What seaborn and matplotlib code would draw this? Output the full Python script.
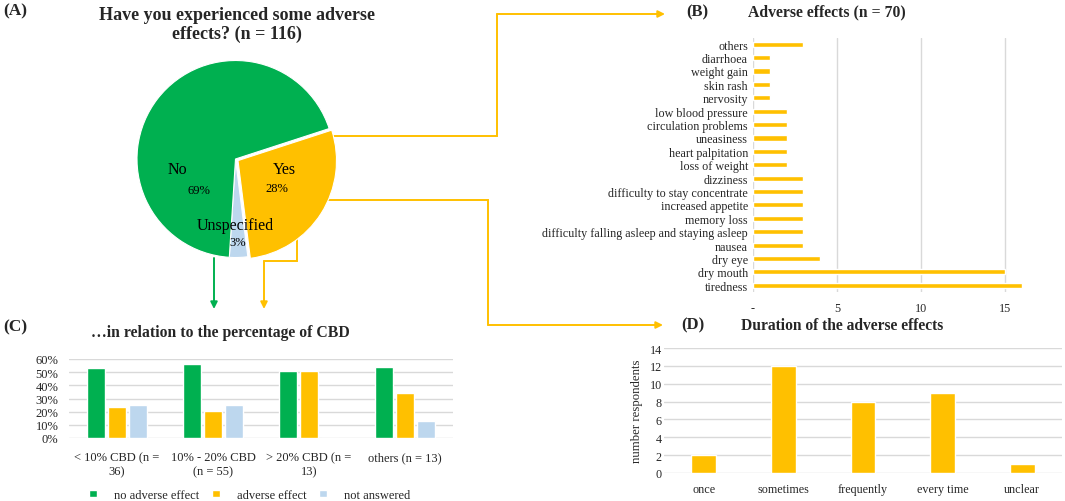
import matplotlib
matplotlib.use('Agg')
import matplotlib.pyplot as plt
import seaborn as sns
import pandas as pd

# ---- data ----
pie_labels = ['Yes', 'Unspecified', 'No']
pie_values = [28, 3, 69]

effects = ['others', 'diarrhoea', 'weight gain', 'skin rash', 'nervosity',
           'low blood pressure', 'circulation problems', 'uneasiness',
           'heart palpitation', 'loss of weight', 'dizziness',
           'difficulty to stay concentrate', 'increased appetite', 'memory loss',
           'difficulty falling asleep and staying asleep', 'nausea', 'dry eye',
           'dry mouth', 'tiredness']
effect_counts = [3, 1, 1, 1, 1, 2, 2, 2, 2, 2, 3, 3, 3, 3, 3, 3, 4, 15, 16]

cbd_groups = ['< 10% CBD (n =\n36)', '10% - 20% CBD\n(n = 55)',
              '> 20% CBD (n =\n13)', 'others (n = 13)']
cbd_series = ['no adverse effect', 'adverse effect', 'not answered']
no_adverse = [53.2, 56.2, 51.1, 54.1]
adverse = [23.3, 20.5, 50.6, 34.4]
not_answered = [25.3, 25.2, 0, 13.2]

duration_labels = ['once', 'sometimes', 'frequently', 'every time', 'unclear']
duration_counts = [2, 12, 8, 9, 1]

GREEN = '#00B050'
ORANGE = '#FFC000'
BLUE = '#BDD7EE'
GRID = '#D9D9D9'
TXT = '#262626'

sns.set_theme(style='white')
plt.rcParams['font.family'] = ['Liberation Serif', 'DejaVu Serif']

W, H = 1065, 502
fig = plt.figure(figsize=(W / 100, H / 100), dpi=100)


def px_axes(left, top, right, bottom, **kw):
    return fig.add_axes([left / W, 1 - bottom / H, (right - left) / W, (bottom - top) / H], **kw)


# overlay for connector arrows (pixel coordinates)
over = px_axes(0, 0, W, H)
over.set_xlim(0, W)
over.set_ylim(H, 0)
over.axis('off')


def connector(points, color):
    xs = [p[0] for p in points[:-1]]
    ys = [p[1] for p in points[:-1]]
    over.plot(xs, ys, color=color, lw=1.4, solid_joinstyle='miter')
    over.annotate('', xy=points[-1], xytext=points[-2],
                  arrowprops=dict(arrowstyle='-|>', color=color, lw=1.4,
                                  mutation_scale=10, shrinkA=0, shrinkB=0))


connector([(331, 137), (497, 137), (497, 15), (665, 15)], ORANGE)
connector([(327, 201), (488, 201), (488, 326), (663, 326)], ORANGE)
connector([(297, 240), (297, 262), (264, 262), (264, 310)], ORANGE)
connector([(214, 259), (214, 310)], GREEN)

# ---- (A) pie ----
r = 98.5
cx, cy = 235.5, 160
axA = px_axes(cx - 1.25 * r, cy - 1.25 * r, cx + 1.25 * r, cy + 1.25 * r)
axA.pie(pie_values, colors=[ORANGE, BLUE, GREEN], startangle=18, counterclock=False,
        explode=[0.03, 0, 0], wedgeprops=dict(edgecolor='white', linewidth=0.8))
axA.set_xlim(-1.25, 1.25)
axA.set_ylim(-1.25, 1.25)
axA.patch.set_visible(False)
label_pos = {'Yes': [(0.50, -0.10), (0.42, -0.29)],
             'Unspecified': [(0.0, -0.67), (0.02, -0.84)],
             'No': [(-0.59, -0.10), (-0.37, -0.31)]}
for lab, val in zip(pie_labels, pie_values):
    (x1, y1), (x2, y2) = label_pos[lab]
    axA.text(x1, y1, lab, ha='center', va='center', fontsize=11.5, color='black')
    axA.text(x2, y2, f'{val}%', ha='center', va='center', fontsize=9, color='black')

fig.text(3 / W, 1 - 11 / H, '(A)', fontsize=12.5, fontweight='bold', va='center')
fig.text(237 / W, 1 - 25 / H, 'Have you experienced some adverse\neffects? (n = 116)',
         fontsize=13, fontweight='bold', ha='center', va='center', linespacing=1.18)

# ---- (B) adverse effects ----
axB = px_axes(753, 38.5, 1032, 293)
dfB = pd.DataFrame({'effect': effects, 'count': effect_counts})
sns.barplot(data=dfB, y='effect', x='count', orient='h', color=ORANGE, width=0.38,
            saturation=1, ax=axB)
axB.set_xlim(0, 16.6)
axB.set_xticks([0, 5, 10, 15])
axB.set_xticklabels(['-', '5', '10', '15'])
axB.grid(axis='x', color=GRID, lw=1)
axB.set_axisbelow(True)
axB.set_xlabel('')
axB.set_ylabel('')
for s in axB.spines.values():
    s.set_visible(False)
axB.tick_params(axis='y', labelsize=8.7, pad=3.6, length=0, labelcolor=TXT)
axB.tick_params(axis='x', labelsize=8.7, pad=7, length=0, labelcolor=TXT)
fig.text(697 / W, 1 - 12 / H, '(B)', fontsize=12, fontweight='bold', ha='center', va='center')
fig.text(827 / W, 1 - 12 / H, 'Adverse effects (n = 70)', fontsize=11.3,
         fontweight='bold', ha='center', va='center')

# ---- (C) percentage of CBD ----
axC = px_axes(69, 360, 453, 439)
dfC = pd.DataFrame({
    'group': cbd_groups * 3,
    'series': [cbd_series[0]] * 4 + [cbd_series[1]] * 4 + [cbd_series[2]] * 4,
    'pct': no_adverse + adverse + not_answered,
})
sns.barplot(data=dfC, x='group', y='pct', hue='series', hue_order=cbd_series,
            palette=[GREEN, ORANGE, BLUE], width=0.66, gap=0.14, saturation=1, ax=axC)
axC.set_ylim(0, 60)
axC.set_yticks(range(0, 61, 10))
axC.set_yticklabels([f'{v}%' for v in range(0, 61, 10)])
axC.grid(axis='y', color=GRID, lw=1)
axC.set_axisbelow(True)
axC.set_xlabel('')
axC.set_ylabel('')
for s in axC.spines.values():
    s.set_visible(False)
axC.tick_params(axis='x', labelsize=9, pad=9.5, length=0, labelcolor=TXT)
axC.tick_params(axis='y', labelsize=9, pad=7.5, length=0, labelcolor=TXT)
for t in axC.get_xticklabels():
    t.set_multialignment('center')
axC.legend(loc='center', bbox_to_anchor=(0.471, -0.72), ncol=3, frameon=False,
           fontsize=9, handlelength=0.6, handleheight=0.6, columnspacing=1.0,
           handletextpad=1.4, labelcolor=TXT)
fig.text(3 / W, 1 - 327 / H, '(C)', fontsize=12.5, fontweight='bold', va='center')
fig.text(220.5 / W, 1 - 333 / H, '\u2026in relation to the percentage of CBD', fontsize=11.3,
         fontweight='bold', ha='center', va='center')

# ---- (D) duration ----
axD = px_axes(664, 349, 1062, 474)
dfD = pd.DataFrame({'duration': duration_labels, 'count': duration_counts})
sns.barplot(data=dfD, x='duration', y='count', color=ORANGE, width=0.31,
            saturation=1, ax=axD)
axD.set_ylim(0, 14)
axD.set_yticks(range(0, 15, 2))
axD.grid(axis='y', color=GRID, lw=1)
axD.set_axisbelow(True)
axD.set_xlabel('')
axD.set_ylabel('number respondents', fontsize=9.2, color=TXT, labelpad=5)
for s in axD.spines.values():
    s.set_visible(False)
axD.tick_params(axis='x', labelsize=8.7, pad=7, length=0, labelcolor=TXT)
axD.tick_params(axis='y', labelsize=8.7, pad=1.5, length=0, labelcolor=TXT)
fig.text(693 / W, 1 - 325 / H, '(D)', fontsize=12, fontweight='bold', ha='center', va='center')
fig.text(842 / W, 1 - 326 / H, 'Duration of the adverse effects', fontsize=11.2,
         fontweight='bold', ha='center', va='center')

fig.savefig('out.png', dpi=100)
